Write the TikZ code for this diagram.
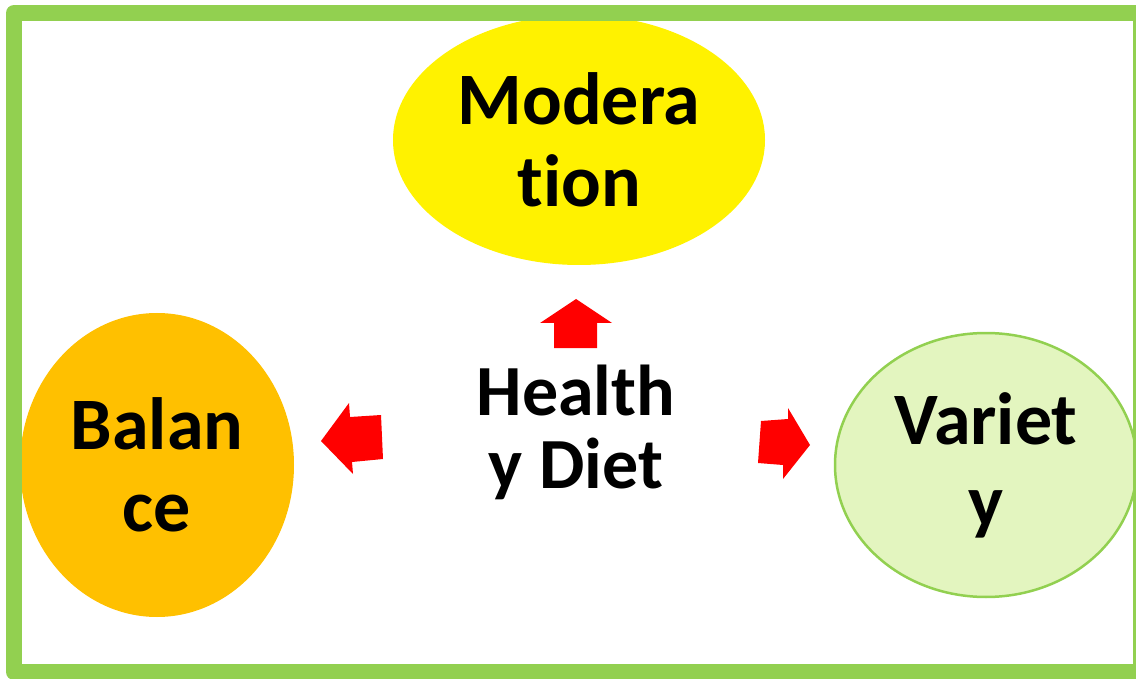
\documentclass[tikz,border=0pt]{standalone}
\usepackage{fontspec}
\setmainfont{Carlito}[Ligatures=NoCommon]
\usetikzlibrary{shapes.geometric}
\definecolor{g1}{HTML}{92D050}
\definecolor{g2}{HTML}{E3F5BF}
\definecolor{o1}{HTML}{FFC000}

\tikzset{
	blob/.style={ellipse,inner sep=0pt,align=center,font=\fontsize{74}{82}\selectfont\bfseries},
}

\begin{document}
\begin{tikzpicture}[x=1pt,y=-1pt]
	\useasboundingbox (0,0) rectangle (1136,679);

	% the three ellipses
	\node [blob,fill=yellow,minimum width=372,minimum height=250] (mod) at (579,140) {Modera\\tion};
	\node [blob,fill=o1,minimum width=274,minimum height=304] (bal) at (157,465) {Balan\\ce};
	\node [blob,fill=g2,draw=g1,line width=2.5,minimum width=302,minimum height=264] (var) at (986,465) {Variet\\y};

	\node [align=center,font=\fontsize{72}{73}\selectfont\bfseries] (diet) at (576,432) {Health\\y Diet};

	% red block arrows
	\fill [red] (576,299) -- (612,323) -- (597,323) -- (597,348) -- (554,348) -- (554,323) -- (540,323) -- cycle;
	\fill [red] (321,441) -- (349,403) -- (350,417) -- (381,415) -- (383,459) -- (352,462) -- (353,474) -- cycle;
	\fill [red] (810,445) -- (788,408) -- (788,419) -- (761,421) -- (758,463) -- (783,465) -- (783,479) -- cycle;

	% frame
	\draw [g1,line width=16,line join=round] (14,13) rectangle (1141,672);
\end{tikzpicture}
\end{document}
